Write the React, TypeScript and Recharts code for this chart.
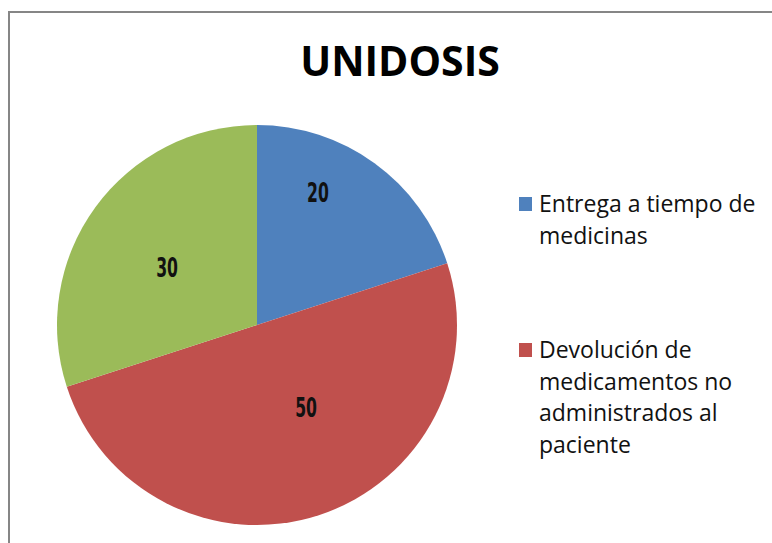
import React from 'react';
import { PieChart, Pie, Cell, Legend } from 'recharts';

const categories = [
  'Entrega a tiempo de medicinas',
  'Devolución de medicamentos no administrados al paciente',
  '',
];
const values = [20, 50, 30];
const colors = ['#4F81BD', '#C0504D', '#9BBB59'];

const data = categories.map((name, i) => ({ name, value: values[i] }));

// label placement tweaks (Excel "best fit" look)
const labelRadius = [0.727, 0.482, 0.532];
const labelAngleShift = [11.2, 12.6, 3.7];

const RADIAN = Math.PI / 180;

const renderLabel = (props: any) => {
  const { cx, cy, midAngle, outerRadius, index, value } = props;
  const r = outerRadius * labelRadius[index];
  const a = (midAngle + labelAngleShift[index]) * RADIAN;
  const x = cx + r * Math.cos(a);
  const y = cy - r * Math.sin(a);
  return (
    <text
      transform={`translate(${x},${y}) scale(0.58,1)`}
      textAnchor="middle"
      dominantBaseline="central"
      fill="#111"
      fontFamily="'DejaVu Sans', sans-serif"
      fontWeight="bold"
      fontSize={27}
    >
      {value}
    </text>
  );
};

const renderLegend = (props: any) => {
  const items = (props.payload || [])
    .filter((p: any) => p.value)
    .sort((a: any, b: any) => categories.indexOf(a.value) - categories.indexOf(b.value));
  return (
    <div style={{ fontFamily: "'Open Sans', sans-serif", fontSize: 23, lineHeight: '31.5px', color: '#111' }}>
      {items.map((item: any, i: number) => (
        <div key={i} style={{ display: 'flex', alignItems: 'flex-start', marginBottom: i === 0 ? 83 : 0 }}>
          <span
            style={{
              display: 'inline-block',
              width: 13,
              height: 14,
              background: item.color,
              marginTop: 9,
              marginRight: 7,
              flex: '0 0 auto',
            }}
          />
          <span style={{ width: 228 }}>{item.value}</span>
        </div>
      ))}
    </div>
  );
};

export default function App() {
  return (
    <div style={{ position: 'absolute', left: 0, top: 0, width: 772, height: 543, overflow: 'hidden', background: '#fff' }}>
      <div
        style={{
          position: 'absolute',
          left: 8,
          top: 11,
          width: 800,
          height: 600,
          border: '2px solid #868686',
          boxSizing: 'border-box',
        }}
      />
      <div
        style={{
          position: 'absolute',
          left: 0,
          top: 32,
          width: 800,
          textAlign: 'center',
          fontFamily: "'Open Sans', sans-serif",
          fontWeight: 'bold',
          fontSize: 41,
          color: '#000',
        }}
      >
        UNIDOSIS
      </div>
      <div style={{ position: 'absolute', left: 0, top: 0 }}>
        <PieChart width={772} height={543} margin={{ top: 0, right: 0, bottom: 0, left: 0 }}>
          <Pie
            data={data}
            dataKey="value"
            nameKey="name"
            cx={257}
            cy={325}
            outerRadius={200}
            startAngle={90}
            endAngle={-270}
            stroke="none"
            labelLine={false}
            label={renderLabel}
            isAnimationActive={false}
          >
            {data.map((entry, i) => (
              <Cell key={`cell-${i}`} fill={colors[i]} />
            ))}
          </Pie>
          <Legend
            layout="vertical"
            align="right"
            verticalAlign="top"
            content={renderLegend}
            wrapperStyle={{ left: 519, top: 188, width: 260 }}
          />
        </PieChart>
      </div>
    </div>
  );
}
